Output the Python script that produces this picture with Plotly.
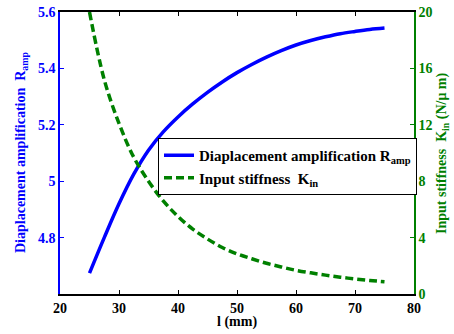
import plotly.graph_objects as go

length_mm = [25, 27.5, 30, 32.5, 35, 37.5, 40, 42.5, 45, 47.5, 50, 52.5, 55,
             57.5, 60, 62.5, 65, 67.5, 70, 72.5, 75]
r_amp = [4.674, 4.80, 4.92, 5.025, 5.11, 5.175, 5.228, 5.274, 5.315, 5.352, 5.385,
         5.414, 5.440, 5.463, 5.483, 5.499, 5.512, 5.523, 5.531, 5.538, 5.543]
k_in = [20.0, 15.2, 12.1, 9.7, 8.0, 6.6, 5.5, 4.6, 3.9, 3.3, 2.85, 2.5, 2.18,
        1.92, 1.68, 1.50, 1.34, 1.19, 1.07, 0.96, 0.87]

x_ticks = [20, 30, 40, 50, 60, 70, 80]
left_ticks = [4.8, 5.0, 5.2, 5.4, 5.6]
left_labels = ["4.8", "5", "5.2", "5.4", "5.6"]
right_ticks = [0, 4, 8, 12, 16, 20]

x_title = "<b>l (mm)</b>"
left_title = "<b>Diaplacement amplification  R<sub>amp</sub></b>"
right_title = "<b>Input stiffness  K<sub>in</sub> (N/\u03bc m)</b>"

FONT = "Liberation Serif, Times New Roman, serif"
BLUE = "#0000ff"
GREEN = "#008000"

fig = go.Figure()
fig.add_trace(go.Scatter(
    x=length_mm, y=r_amp, mode="lines",
    line=dict(color=BLUE, width=3.5, shape="spline", smoothing=1.0),
    name="<b>Diaplacement amplification R<sub>amp</sub></b>",
    yaxis="y",
))
fig.add_trace(go.Scatter(
    x=length_mm, y=k_in, mode="lines",
    line=dict(color=GREEN, width=3.5, dash="8px,4px", shape="spline", smoothing=1.0),
    name="<b>Input stiffness  K<sub>in</sub></b>",
    yaxis="y2",
))

fig.update_layout(
    width=454, height=334,
    margin=dict(l=60, r=40, t=12, b=40, autoexpand=False),
    paper_bgcolor="white", plot_bgcolor="white",
    font=dict(family=FONT, size=14, color="black"),
    showlegend=True,
    legend=dict(
        x=(158 - 60) / 354, y=(294 - 138) / 282, xanchor="left", yanchor="top",
        bgcolor="white", bordercolor="black", borderwidth=1,
        font=dict(family=FONT, size=15, color="black"),
        tracegroupgap=0, itemwidth=30,
    ),
    xaxis=dict(
        range=[20, 80], tickvals=x_ticks, automargin=False,
        ticks="inside", ticklen=4, tickcolor="black",
        showline=True, linecolor="black", linewidth=1.5, mirror="ticks",
        showgrid=False, zeroline=False,
        tickfont=dict(family=FONT, size=14, color="black", weight="bold"),
    ),
    yaxis=dict(
        range=[4.6, 5.6], tickvals=left_ticks, ticktext=left_labels,
        automargin=False,
        ticks="inside", ticklen=4, tickcolor=BLUE,
        showline=True, linecolor=BLUE, linewidth=1.5,
        showgrid=False, zeroline=False,
        tickfont=dict(family=FONT, size=14, color=BLUE, weight="bold"),
    ),
    yaxis2=dict(
        range=[0, 20], tickvals=right_ticks, automargin=False,
        overlaying="y", side="right",
        ticks="inside", ticklen=4, tickcolor=GREEN,
        showline=True, linecolor=GREEN, linewidth=1.5,
        showgrid=False, zeroline=False,
        tickfont=dict(family=FONT, size=14, color=GREEN, weight="bold"),
    ),
    annotations=[
        dict(text=x_title, xref="paper", yref="paper",
             x=0.5, y=(294 - 322) / 282, xanchor="center", yanchor="middle",
             showarrow=False, font=dict(family=FONT, size=14, color="black")),
        dict(text=left_title, xref="paper", yref="paper",
             x=(21 - 60) / 354, y=0.5, xanchor="center", yanchor="middle",
             textangle=-90, showarrow=False,
             font=dict(family=FONT, size=14, color=BLUE)),
        dict(text=right_title, xref="paper", yref="paper",
             x=(442 - 60) / 354, y=0.5, xanchor="center", yanchor="middle",
             textangle=-90, showarrow=False,
             font=dict(family=FONT, size=14, color=GREEN)),
    ],
)

fig.write_html(
    "out.html",
    config={"displayModeBar": False},
    post_script="document.body.style.margin='0';document.body.style.overflow='hidden';",
)
